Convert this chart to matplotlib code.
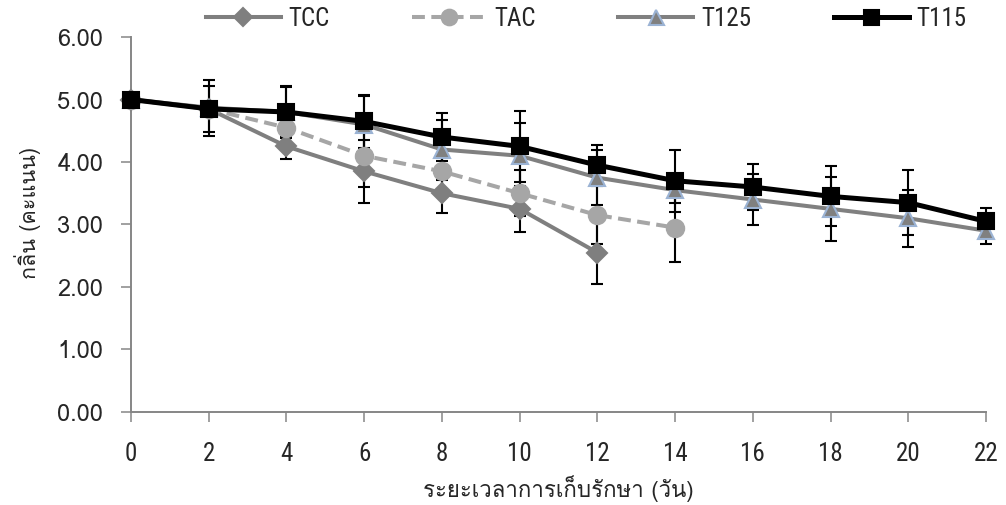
import matplotlib
matplotlib.use("Agg")
import matplotlib.pyplot as plt
from matplotlib import font_manager
from matplotlib.lines import Line2D
from matplotlib.ticker import FormatStrFormatter

# ---------------- data ----------------
days = [0, 2, 4, 6, 8, 10, 12, 14, 16, 18, 20, 22]
series_names = ["TCC", "TAC", "T125", "T115"]

tcc_days = [0, 2, 4, 6, 8, 10, 12]
tcc_vals = [5.00, 4.85, 4.25, 3.85, 3.50, 3.25, 2.55]
tcc_err = [0.00, 0.10, 0.20, 0.50, 0.32, 0.37, 0.51]

tac_days = [0, 2, 4, 6, 8, 10, 12, 14]
tac_vals = [5.00, 4.85, 4.55, 4.10, 3.85, 3.50, 3.15, 2.95]
tac_err = [0.00, 0.10, 0.15, 0.50, 0.30, 0.37, 0.47, 0.55]

t125_days = days
t125_vals = [5.00, 4.87, 4.80, 4.60, 4.20, 4.10, 3.75, 3.55, 3.40, 3.25, 3.10, 2.90]
t125_err = [0.00, 0.45, 0.40, 0.45, 0.48, 0.52, 0.44, 0.21, 0.41, 0.51, 0.46, 0.22]

t115_days = days
t115_vals = [5.00, 4.85, 4.80, 4.65, 4.40, 4.25, 3.95, 3.70, 3.60, 3.45, 3.35, 3.05]
t115_err = [0.00, 0.37, 0.42, 0.43, 0.38, 0.57, 0.32, 0.50, 0.37, 0.48, 0.52, 0.22]

y_ticks = [0, 1, 2, 3, 4, 5, 6]
x_label = "ระยะเวลาการเก็บรักษา (วัน)"
y_label = "กลิ่น (คะแนน)"

# ---------------- fonts ----------------
def find_thai_font():
    try:
        from fontTools.ttLib import TTFont
    except Exception:
        return None
    seen = set()
    for f in font_manager.fontManager.ttflist:
        if f.fname in seen:
            continue
        seen.add(f.fname)
        try:
            tt = TTFont(f.fname, fontNumber=0, lazy=True)
            cmap = tt.getBestCmap()
            if cmap and 0x0E01 in cmap and 0x0E48 in cmap:
                return f.name
        except Exception:
            continue
    return None

thai = find_thai_font()
fam = ([thai] if thai else []) + ["DejaVu Sans"]
plt.rcParams["font.family"] = fam

names = {f.name for f in font_manager.fontManager.ttflist}
narrow_family = "DejaVu Sans"
narrow_stretch = "condensed"
for cand in ["Liberation Sans Narrow", "Roboto Condensed", "Open Sans Condensed",
             "Noto Sans Condensed", "DejaVu Sans Condensed"]:
    if cand in names:
        narrow_family = cand
        narrow_stretch = "normal"
        break

# ---------------- figure ----------------
fig = plt.figure(figsize=(10.06, 5.05), dpi=100)
ax = fig.add_axes([0.1302, 0.1842, 0.8499, 0.7425])

styles = [
    dict(days=tcc_days, vals=tcc_vals, err=tcc_err, color="#7f7f7f", ls="-", lw=2.9,
         marker="D", ms=10, mfc="#7f7f7f", mec="#7f7f7f"),
    dict(days=tac_days, vals=tac_vals, err=tac_err, color="#a6a6a6", ls=(0, (3.2, 1.6)), lw=2.9,
         marker="o", ms=12.5, mfc="#a6a6a6", mec="#a6a6a6"),
    dict(days=t125_days, vals=t125_vals, err=t125_err, color="#808080", ls="-", lw=2.9,
         marker="^", ms=12, mfc="#808080", mec="#9bb3d4"),
    dict(days=t115_days, vals=t115_vals, err=t115_err, color="#000000", ls="-", lw=3.6,
         marker="s", ms=12, mfc="#000000", mec="#000000"),
]

for i, s in enumerate(styles):
    ax.errorbar(s["days"], s["vals"], yerr=s["err"], fmt="none", ecolor="black",
                elinewidth=1.5, capsize=4.3, capthick=1.5, zorder=2 + i * 0.1, clip_on=False)

for i, s in enumerate(styles):
    ax.plot(s["days"], s["vals"], color=s["color"], ls=s["ls"], lw=s["lw"],
            marker=s["marker"], ms=s["ms"], mfc=s["mfc"], mec=s["mec"], mew=1.5,
            zorder=3 + i * 0.1, clip_on=False, solid_capstyle="butt", dash_capstyle="butt")

ax.set_xlim(0, 22)
ax.set_ylim(0, 6)
ax.set_xticks(days)
ax.set_yticks(y_ticks)
ax.yaxis.set_major_formatter(FormatStrFormatter("%.2f"))

for sp in ["top", "right"]:
    ax.spines[sp].set_visible(False)
for sp in ["left", "bottom"]:
    ax.spines[sp].set_color("#868686")
    ax.spines[sp].set_linewidth(1.4)

ax.tick_params(axis="y", direction="out", length=7, width=1.1, color="#868686",
               labelsize=17, labelcolor="#262626", pad=13)
ax.tick_params(axis="x", direction="out", length=7.5, width=1.1, color="#868686",
               labelsize=18, labelcolor="#262626", pad=14)
for lab in ax.get_xticklabels():
    lab.set_fontfamily(narrow_family)
    lab.set_fontstretch(narrow_stretch)

ax.set_xlabel(x_label, fontsize=16, color="#262626")
ax.set_ylabel(y_label, fontsize=15.5, color="#262626")
ax.xaxis.set_label_coords(0.5, -0.17)
ax.yaxis.set_label_coords(-0.105, 0.53)

handles = []
for s, n in zip(styles, series_names):
    handles.append(Line2D([0], [0], color=s["color"], ls=s["ls"], lw=s["lw"],
                          marker=s["marker"], ms=s["ms"] * 0.9, mfc=s["mfc"], mec=s["mec"], mew=1.5))
leg = fig.legend(handles, series_names, loc="center", bbox_to_anchor=(0.5825, 0.962),
                 ncol=4, frameon=False, fontsize=18, handlelength=3.0, columnspacing=3.3,
                 handletextpad=0.3, borderpad=0, borderaxespad=0)
for t in leg.get_texts():
    t.set_fontfamily(narrow_family)
    t.set_fontstretch(narrow_stretch)
    t.set_color("#262626")

fig.savefig("out.png", dpi=100)
